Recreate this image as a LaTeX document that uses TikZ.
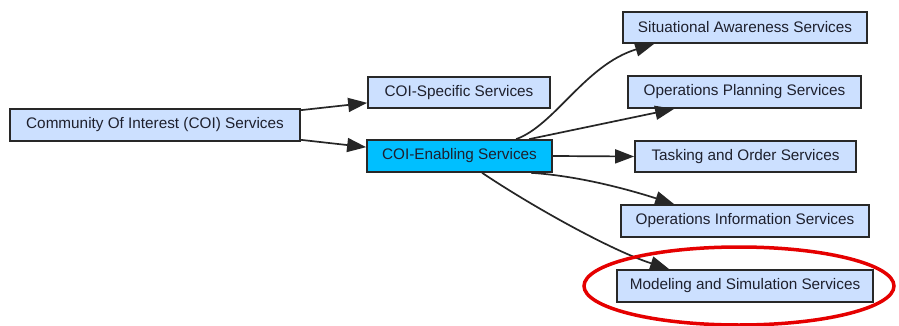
\documentclass[tikz,border=0pt]{standalone}
\usepackage{fontspec}
\setmainfont{Liberation Sans}
\usetikzlibrary{arrows.meta,calc}
\definecolor{lightbox}{RGB}{204,224,255}
\definecolor{enabl}{RGB}{0,191,255}
\definecolor{edgegray}{RGB}{40,40,40}
\definecolor{txtc}{RGB}{30,32,45}
\tikzset{
  svc/.style={draw=edgegray, line width=1.7pt, fill=lightbox, rectangle, inner sep=0pt,
    font=\fontsize{15.3}{17}\selectfont, text=txtc},
  lnk/.style={draw=black!85, line width=1.7pt, -{Triangle[length=19pt,width=14pt]}}
}
\begin{document}
\begin{tikzpicture}[x=1pt,y=-1pt]
\useasboundingbox (0,0) rectangle (899,326);
\fill[white] (0,0) rectangle (899,326);
\node[svc, minimum width=290pt, minimum height=32pt] (coi) at (155,125) {Community Of Interest (COI) Services};
\node[svc, minimum width=182pt, minimum height=31pt] (spec) at (459,92.5) {COI-Specific Services};
\node[svc, fill=enabl, minimum width=185pt, minimum height=32pt] (enab) at (459.5,156) {COI-Enabling Services};
\node[svc, minimum width=244pt, minimum height=31pt] (sa) at (745,27.5) {Situational Awareness Services};
\node[svc, minimum width=233pt, minimum height=32pt] (opp) at (744.5,92) {Operations Planning Services};
\node[svc, minimum width=221pt, minimum height=31pt] (task) at (745.5,156.5) {Tasking and Order Services};
\node[svc, minimum width=248pt, minimum height=32pt] (opi) at (745,221) {Operations Information Services};
\node[svc, minimum width=256pt, minimum height=32pt] (ms) at (745,286) {Modeling and Simulation Services};
% edges
\draw[lnk] ($(coi.north east)+(0,2)$) -- ($(spec.south west)+(0,-6)$);
\draw[lnk] ($(coi.south east)+(0,-2)$) -- ($(enab.north west)+(0,8)$);
\draw[lnk] ($(enab.north west)+(150,0)$) .. controls (555,125) and (585,65) .. ($(sa.south west)+(32,0)$);
\draw[lnk] ($(enab.north west)+(163,0)$) -- ($(opp.south west)+(47,0)$);
\draw[lnk] (enab.east) -- (task.west);
\draw[lnk] ($(enab.south west)+(165,0)$) .. controls (580,176) and (630,190) .. ($(opi.north west)+(54,0)$);
\draw[lnk] ($(enab.south west)+(116,0)$) .. controls (530,205) and (610,250) .. ($(ms.north west)+(53,0)$);
% highlight
\draw[red!90!black, line width=3.5pt] (739,286) ellipse [x radius=155pt, y radius=39pt];
\end{tikzpicture}
\end{document}
